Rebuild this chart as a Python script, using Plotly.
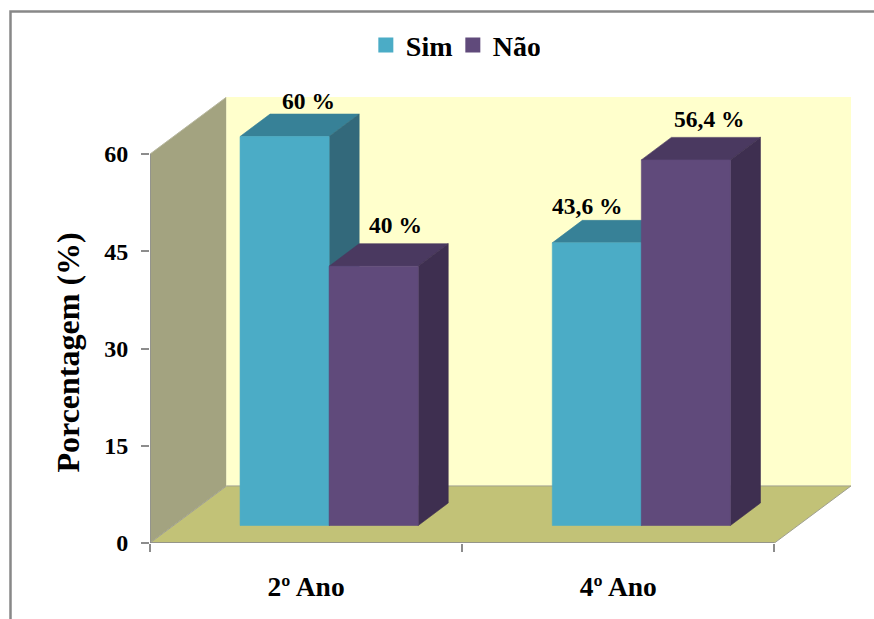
import plotly.graph_objects as go

# Survey data
categories = ["2º Ano", "4º Ano"]
series_names = ["Sim", "Não"]
sim_values = [60, 43.6]
nao_values = [40, 56.4]
y_ticks = [0, 15, 30, 45, 60]

# Oblique projection, in axis units
WALL_DX, WALL_DY = 0.2452, 8.8
BAR_DX, BAR_DY = 0.0737, 2.7
BAR_DEPTH_X, BAR_DEPTH_Y = 0.0962, 3.47
BAR_WIDTH = 0.2853
Y_MAX = 60
X_MAX = len(categories)

SERIF = "Liberation Serif"
INK = "#000000"
AXIS_GREY = "#8C8C8C"

# Manual offsets of each value label from its bar, (x, y) in pixels
label_shift_sim = [(24, 35.5), (-9, 36.5)]
label_shift_nao = [(22, 41.5), (24, 41)]


def polygon(xs, ys, fill, line=None, width=0.6):
    return go.Scatter(
        x=xs + xs[:1], y=ys + ys[:1], mode="lines", fill="toself", fillcolor=fill,
        line=dict(color=line or fill, width=width),
        hoverinfo="skip", showlegend=False,
    )


def bar_faces(left, value, front, side, top):
    """Front, side and top faces of one column, standing on the floor."""
    x0 = left + BAR_DX
    x1 = x0 + BAR_WIDTH
    y0 = BAR_DY
    y1 = value + BAR_DY
    dx, dy = BAR_DEPTH_X, BAR_DEPTH_Y
    return [
        polygon([x0, x0 + dx, x1 + dx, x1], [y1, y1 + dy, y1 + dy, y1], top),
        polygon([x1, x1 + dx, x1 + dx, x1], [y0, y0 + dy, y1 + dy, y1], side),
        polygon([x0, x1, x1, x0], [y0, y0, y1, y1], front),
    ]


fig = go.Figure()

# Chart walls and floor
fig.add_trace(polygon([0, WALL_DX, WALL_DX, 0], [0, WALL_DY, Y_MAX + WALL_DY, Y_MAX],
                      "#A3A380", "#B8B8A0", 1))
fig.add_trace(polygon([WALL_DX, X_MAX + WALL_DX, X_MAX + WALL_DX, WALL_DX],
                      [WALL_DY, WALL_DY, Y_MAX + WALL_DY, Y_MAX + WALL_DY], "#FFFFCC"))
fig.add_trace(polygon([0, X_MAX, X_MAX + WALL_DX, WALL_DX], [0, 0, WALL_DY, WALL_DY],
                      "#C2C277", "#A0A090", 1))

# Columns, painted back to front within each group
annotations = []
for i, _ in enumerate(categories):
    centre = i + 0.5
    for trace in bar_faces(centre - BAR_WIDTH, sim_values[i], "#4BACC6", "#33697B", "#378197"):
        fig.add_trace(trace)
    for trace in bar_faces(centre, nao_values[i], "#604A7B", "#3E2F50", "#4A3960"):
        fig.add_trace(trace)
    for value, left, (sx, sy) in (
        (sim_values[i], centre - BAR_WIDTH, label_shift_sim[i]),
        (nao_values[i], centre, label_shift_nao[i]),
    ):
        label = f"{value:g}".replace(".", ",") + " %"
        annotations.append(dict(
            x=left + BAR_DX + BAR_WIDTH / 2, y=value + BAR_DY,
            text=f"<b>{label}</b>",
            showarrow=False, xshift=sx, yshift=sy,
            font=dict(family=SERIF, size=23.5, color=INK),
        ))

# Axis lines stop at the front edge of the floor and at the value maximum
fig.add_trace(go.Scatter(
    x=[0, 0, X_MAX], y=[Y_MAX, 0, 0], mode="lines",
    line=dict(color=AXIS_GREY, width=1.5),
    hoverinfo="skip", showlegend=False,
))

# Vertical axis title, centred on the value scale
annotations.append(dict(
    xref="paper", x=-0.117, xanchor="center", yref="y", y=Y_MAX / 2, yanchor="middle",
    yshift=-4, textangle=-90, showarrow=False, text="<b>Porcentagem (%)</b>",
    font=dict(family=SERIF, size=32, color=INK),
))

# Legend swatches
for name, colour in zip(series_names, ("#4BACC6", "#604A7B")):
    fig.add_trace(go.Scatter(
        x=[None], y=[None], mode="markers", name=name,
        marker=dict(symbol="square", size=15, color=colour),
    ))

fig.update_layout(
    width=874, height=619, autosize=False,
    margin=dict(l=150, r=23, t=97, b=76),
    paper_bgcolor="white", plot_bgcolor="rgba(0,0,0,0)",
    font=dict(family=SERIF, color=INK),
    annotations=annotations,
    legend=dict(
        orientation="h", x=0.432, xref="paper", xanchor="center",
        y=1.116, yanchor="middle",
        font=dict(family=SERIF, size=28, weight="bold"),
        itemsizing="trace", entrywidth=42, entrywidthmode="pixels",
    ),
    # Outer frame of the chart area
    shapes=[dict(
        type="path", xref="paper", yref="paper",
        path="M -0.199 -0.1704 L -0.199 1.1917 L 1.0328 1.1917",
        line=dict(color="#888888", width=2.5),
    )],
)

fig.update_xaxes(
    range=[0, X_MAX + WALL_DX], tickmode="array",
    tickvals=[i + 0.5 for i in range(X_MAX)], ticktext=categories,
    ticks="", showline=False,
    showgrid=False, zeroline=False, ticklabelstandoff=24,
    tickfont=dict(family=SERIF, size=27.5, weight="bold"),
    minor=dict(tickmode="array", tickvals=list(range(X_MAX + 1)), ticks="outside",
               ticklen=8, tickcolor=AXIS_GREY, tickwidth=1.5, showgrid=False),
)
fig.update_yaxes(
    range=[0, Y_MAX + WALL_DY], tickmode="array", tickvals=y_ticks,
    ticks="outside", ticklen=8, tickcolor=AXIS_GREY, tickwidth=1.5,
    showline=False,
    showgrid=False, zeroline=False, ticklabelstandoff=8,
    tickfont=dict(family=SERIF, size=24, weight="bold"),
)

fig.write_html("out.html")
